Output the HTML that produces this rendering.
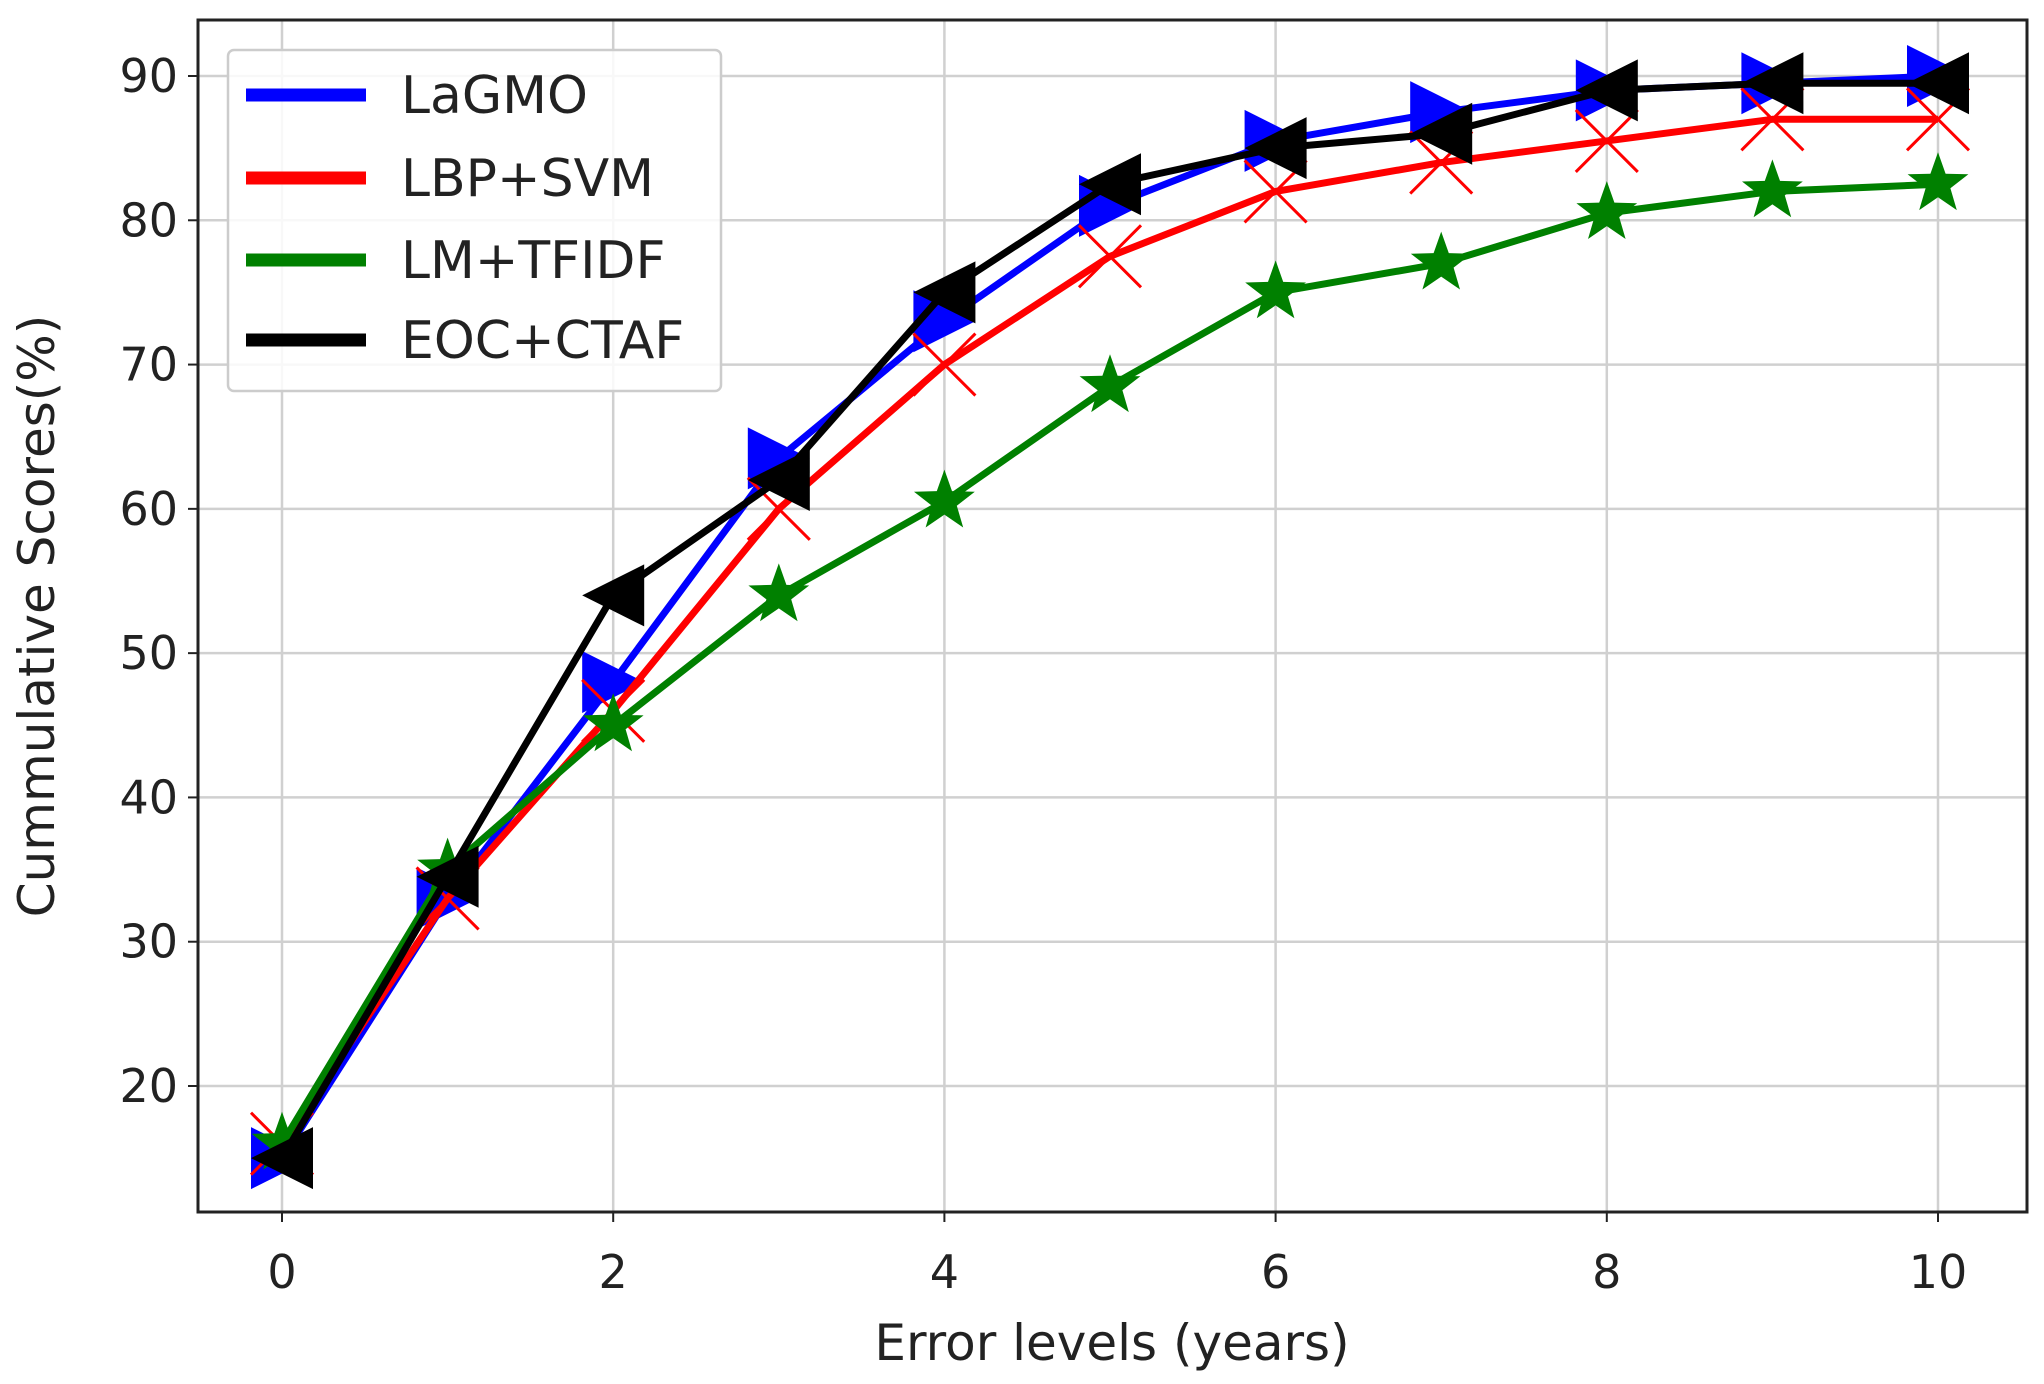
<!DOCTYPE html>
<html><head><meta charset="utf-8"><style>
body{margin:0;background:#fff;}
svg{display:block;font-family:"DejaVu Sans","Liberation Sans",sans-serif;}
</style></head><body>
<svg id="chart" width="2044" height="1384" viewBox="0 0 2044 1384"></svg>
<script>
const levels=[0,1,2,3,4,5,6,7,8,9,10];
const lagmo=[15,33,48,63.5,73,81,85.5,87.5,89,89.5,90];
const lbpSvm=[16,33,46,60,70,77.5,82,84,85.5,87,87];
const lmTfidf=[16,35,45,54,60.5,68.5,75,77,80.5,82,82.5];
const eocCtaf=[15,34.5,54,62,75,82.5,85,86,89,89.5,89.5];
const xTicks=[0,2,4,6,8,10];
const yTicks=[20,30,40,50,60,70,80,90];
const seriesNames=["LaGMO","LBP+SVM","LM+TFIDF","EOC+CTAF"];

const NS="http://www.w3.org/2000/svg";
const svg=document.getElementById('chart');
const L=198,R=2027,T=20,B=1212;
const xs=v=>282+(v-0)*(1938-282)/10;
const ys=v=>1086-(v-20)*(1086-76)/70;
function mk(tag,attrs,parent){const e=document.createElementNS(NS,tag);for(const k in attrs)e.setAttribute(k,attrs[k]);(parent||svg).appendChild(e);return e;}

const grid=mk('g',{});


xTicks.forEach(t=>{mk('line',{x1:xs(t),x2:xs(t),y1:T,y2:B,stroke:'#d0d0d0','stroke-width':2.5},grid);
 const lb=mk('text',{x:xs(t),y:1288,'text-anchor':'middle','font-size':46,fill:'#222'});lb.textContent=t;
 
 
 mk('line',{x1:xs(t),x2:xs(t),y1:B,y2:B+10,stroke:'#222','stroke-width':2});});
yTicks.forEach(t=>{mk('line',{x1:L,x2:R,y1:ys(t),y2:ys(t),stroke:'#d0d0d0','stroke-width':2.5},grid);
 const lb=mk('text',{x:178,y:ys(t)+16,'text-anchor':'end','font-size':46,fill:'#222'});lb.textContent=t;
 
 
 mk('line',{x1:L-10,x2:L,y1:ys(t),y2:ys(t),stroke:'#222','stroke-width':2});});

const colors=['#0000ff','#ff0000','#008000','#000000'];
const data=[lagmo,lbpSvm,lmTfidf,eocCtaf];
const mtypes=['right','x','star','left'];
function marker(type,cx,cy,c,g){
 const s=31;
 if(type==='right')mk('polygon',{points:`${cx+s},${cy} ${cx-s},${cy-s} ${cx-s},${cy+s}`,fill:c},g);
 else if(type==='left')mk('polygon',{points:`${cx-s},${cy} ${cx+s},${cy-s} ${cx+s},${cy+s}`,fill:c},g);
 else if(type==='x'){mk('path',{d:`M${cx-s} ${cy-s}L${cx+s} ${cy+s}M${cx-s} ${cy+s}L${cx+s} ${cy-s}`,stroke:c,'stroke-width':3},g);}
 else{let p=[];for(let i=0;i<10;i++){const r=i%2?13:32,a=-Math.PI/2+i*Math.PI/5;p.push((cx+r*Math.cos(a)).toFixed(1)+','+(cy+r*Math.sin(a)).toFixed(1));}
  mk('polygon',{points:p.join(' '),fill:c},g);}
}
data.forEach((d,i)=>{
 const g=mk('g',{});
 
 
 mk('polyline',{points:d.map((v,j)=>xs(levels[j])+','+ys(v)).join(' '),fill:'none',stroke:colors[i],'stroke-width':7,'stroke-linejoin':'round'},g);
 d.forEach((v,j)=>marker(mtypes[i],xs(levels[j]),ys(v),colors[i],g));
});

mk('rect',{x:L,y:T,width:R-L,height:B-T,fill:'none',stroke:'#222','stroke-width':3});

const leg=mk('g',{});


mk('rect',{x:228,y:50,width:493,height:341,rx:6,fill:'#fff','fill-opacity':0.85,stroke:'#ccc','stroke-width':2.5},leg);
[95,178,260,340].forEach((y,i)=>{
 const e=mk('g',{},leg);
 
 
 mk('line',{x1:246,x2:366,y1:y,y2:y,stroke:colors[i],'stroke-width':13},e);
 const t=mk('text',{x:401,y:y+18,'font-size':52,fill:'#222'},e);t.textContent=seriesNames[i];
});

const xt=mk('text',{x:1112,y:1360,'text-anchor':'middle','font-size':50,fill:'#222'});xt.textContent='Error levels (years)';


const yt=mk('text',{x:0,y:0,'text-anchor':'middle','font-size':50,fill:'#222',transform:'translate(54,616) rotate(-90)'});yt.textContent='Cummulative Scores(%)';


</script>
</body></html>
